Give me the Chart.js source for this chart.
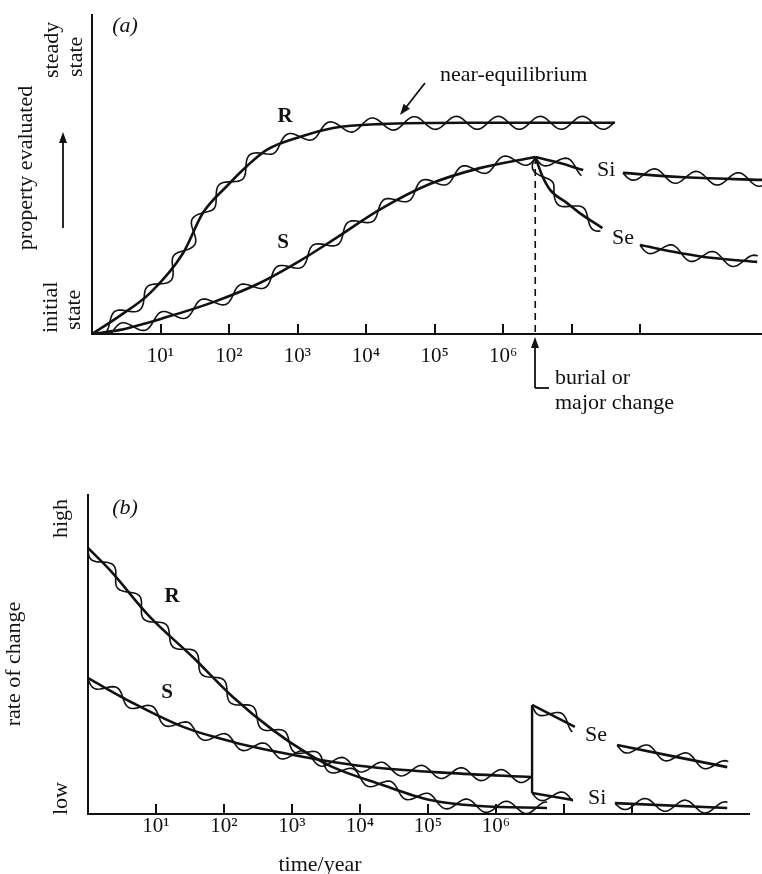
<!DOCTYPE html>
<html>
<head>
<meta charset="utf-8">
<script src="https://cdn.jsdelivr.net/npm/chart.js@4.4.1/dist/chart.umd.min.js"></script>
<style>
  html, body { margin: 0; padding: 0; background: #fff; }
  body { width: 762px; height: 874px; position: relative; overflow: hidden; }
  .panel { position: absolute; left: 0; }
  #panelA { top: 0; }
  #panelB { top: 470px; }
</style>
</head>
<body>
<div class="panel" id="panelA"><canvas id="chartA" width="762" height="430"></canvas></div>
<div class="panel" id="panelB"><canvas id="chartB" width="762" height="404"></canvas></div>
<script>
const INK = '#111';
const SERIF = '"Liberation Serif", "DejaVu Serif", serif';

// x = log10(time / year); one tick per decade
const decades = [1, 2, 3, 4, 5, 6, 7, 8];
const decadeLabels = ['10¹', '10²', '10³', '10⁴', '10⁵', '10⁶', '', ''];

// (a) property evaluated: 0 = initial state, 100 = steady state
const aR = [[0, 0], [0.4, 5.6], [0.85, 12.9], [1.33, 25.4], [1.62, 38], [1.97, 46.4], [2.26, 52.6],
            [2.55, 57.7], [3.04, 61.8], [3.52, 64.6], [4.2, 65.8], [5.5, 66.2], [7.63, 66.2]];
const aS = [[0, 0], [0.41, 1.3], [1.09, 5.3], [1.77, 10], [2.45, 16], [3.04, 23], [3.52, 29.5],
            [4.2, 39], [4.93, 47], [5.66, 52], [6.47, 55.5]];
const aSi1 = [[6.47, 55.5], [6.83, 53.6], [7.17, 51.4]];
const aSi2 = [[7.75, 50.5], [8.58, 49.2], [9.78, 48.3]];
const aSe1 = [[6.47, 55.5], [6.58, 49.2], [6.69, 45.1], [6.93, 41.1], [7.12, 37.9], [7.45, 33.2]];
const aSe2 = [[8.0, 27.9], [8.58, 25.4], [9.07, 23.8], [9.71, 22.6]];
const burialAt = 6.47;
const aBurial = [[burialAt, 55.5], [burialAt, 0]];

// (b) rate of change: 0 = low, 100 = high
const bR = [[0, 83.4], [0.32, 76.5], [0.91, 61.8], [1.54, 49.2], [2.13, 36.7], [2.72, 26.3],
            [3.22, 19.1], [3.6, 14.7], [4.29, 9.4], [5.03, 4.4], [5.76, 2.5], [6.75, 1.9]];
const bS = [[0, 42.6], [0.66, 34.8], [1.4, 27.3], [2.13, 22.6], [2.87, 19.1], [3.6, 16.3],
            [4.29, 14.4], [5.28, 12.9], [6.53, 11.6]];
const bJump = [[6.53, 34.2], [6.53, 6.6]];
const bSe1 = [[6.53, 34.2], [7.16, 27.3]];
const bSe2 = [[7.78, 21.6], [9.4, 14.7]];
const bSi1 = [[6.53, 6.6], [7.13, 4.4]];
const bSi2 = [[7.75, 3.4], [9.4, 1.9]];

const pts = arr => arr.map(([x, y]) => ({ x, y }));

function curve(label, arr, wave) {
    return {
        label, data: pts(arr), wave,
        borderColor: INK, borderWidth: 2.6, pointRadius: 0,
        cubicInterpolationMode: 'monotone'
    };
}

function straight(label, arr, dash) {
    return {
        label, data: pts(arr),
        borderColor: INK, borderWidth: dash ? 1.6 : 2.4, borderDash: dash || [],
        pointRadius: 0, tension: 0
    };
}

function drawArrow(ctx, x1, y1, x2, y2) {
    const ang = Math.atan2(y2 - y1, x2 - x1);
    ctx.lineWidth = 1.8;
    ctx.beginPath();
    ctx.moveTo(x1, y1);
    ctx.lineTo(x2 - 6 * Math.cos(ang), y2 - 6 * Math.sin(ang));
    ctx.stroke();
    ctx.beginPath();
    ctx.moveTo(x2, y2);
    ctx.lineTo(x2 - 11 * Math.cos(ang) + 4 * Math.sin(ang), y2 - 11 * Math.sin(ang) - 4 * Math.cos(ang));
    ctx.lineTo(x2 - 11 * Math.cos(ang) - 4 * Math.sin(ang), y2 - 11 * Math.sin(ang) + 4 * Math.cos(ang));
    ctx.closePath();
    ctx.fill();
}

// the wiggly "fluctuation" line running along each smooth curve
const wavePlugin = {
    id: 'wave',
    afterDatasetsDraw(chart) {
        const { ctx, chartArea } = chart;
        chart.data.datasets.forEach((ds, i) => {
            const w = ds.wave;
            const meta = chart.getDatasetMeta(i);
            if (!w || meta.hidden) return;
            const p = meta.data;
            const path = [];
            for (let k = 0; k < p.length - 1; k++) {
                const a = p[k], b = p[k + 1];
                const c1x = a.cp2x ?? a.x, c1y = a.cp2y ?? a.y;
                const c2x = b.cp1x ?? b.x, c2y = b.cp1y ?? b.y;
                const n = Math.max(8, Math.ceil(Math.hypot(b.x - a.x, b.y - a.y) / 2));
                for (let s = 0; s < n; s++) {
                    const t = s / n, u = 1 - t;
                    path.push([
                        u * u * u * a.x + 3 * u * u * t * c1x + 3 * u * t * t * c2x + t * t * t * b.x,
                        u * u * u * a.y + 3 * u * u * t * c1y + 3 * u * t * t * c2y + t * t * t * b.y
                    ]);
                }
            }
            const last = p[p.length - 1];
            path.push([last.x, last.y]);

            ctx.save();
            ctx.beginPath();
            ctx.rect(chartArea.left, chartArea.top, chartArea.right - chartArea.left, chartArea.bottom - chartArea.top);
            ctx.clip();
            ctx.beginPath();
            let d = 0;
            for (let j = 0; j < path.length; j++) {
                const [x, y] = path[j];
                if (j > 0) d += Math.hypot(x - path[j - 1][0], y - path[j - 1][1]);
                const prev = path[Math.max(0, j - 1)], next = path[Math.min(path.length - 1, j + 1)];
                const tx = next[0] - prev[0], ty = next[1] - prev[1];
                const L = Math.hypot(tx, ty) || 1;
                const off = w.amp * Math.sin(2 * Math.PI * d / w.len + (w.phase || 0));
                const px = x - ty / L * off, py = y + tx / L * off;
                if (j === 0) ctx.moveTo(px, py); else ctx.lineTo(px, py);
            }
            ctx.lineWidth = w.width;
            ctx.strokeStyle = INK;
            ctx.stroke();
            ctx.restore();
        });
    }
};

// short decade ticks standing up from the time axis
const decadeTicks = {
    id: 'decadeTicks',
    afterDraw(chart) {
        const { ctx, chartArea, scales: { x } } = chart;
        ctx.save();
        ctx.strokeStyle = INK;
        ctx.lineWidth = 2;
        decades.forEach(v => {
            const px = Math.round(x.getPixelForValue(v));
            ctx.beginPath();
            ctx.moveTo(px, chartArea.bottom);
            ctx.lineTo(px, chartArea.bottom - 10);
            ctx.stroke();
        });
        ctx.restore();
    }
};

function notes(items) {
    return {
        id: 'notes',
        afterDraw(chart) {
            const ctx = chart.ctx;
            ctx.save();
            ctx.fillStyle = INK;
            ctx.strokeStyle = INK;
            items.forEach(n => {
                if (n.arrow) { drawArrow(ctx, ...n.arrow); return; }
                ctx.font = `${n.style || 'normal'} ${n.size || 22}px ${SERIF}`;
                ctx.textAlign = n.align || 'center';
                ctx.textBaseline = n.baseline || 'middle';
                ctx.save();
                ctx.translate(n.x, n.y);
                if (n.rot) ctx.rotate(-Math.PI / 2);
                ctx.fillText(n.t, 0, 0);
                ctx.restore();
            });
            ctx.restore();
        }
    };
}

const burialPointer = {
    id: 'burialPointer',
    afterDraw(chart) {
        const { ctx, chartArea } = chart;
        const x = Math.round(chart.scales.x.getPixelForValue(burialAt));
        ctx.save();
        ctx.strokeStyle = INK;
        ctx.fillStyle = INK;
        drawArrow(ctx, x, 388, x, chartArea.bottom + 3);
        ctx.beginPath();
        ctx.moveTo(x, 388);
        ctx.lineTo(x + 14, 388);
        ctx.stroke();
        ctx.restore();
    }
};

function panelOptions(p) {
    return {
        responsive: false,
        animation: false,
        events: [],
        layout: { padding: { top: p.top, right: p.right, left: 0, bottom: 0 } },
        plugins: { legend: { display: false }, tooltip: { enabled: false } },
        scales: {
            x: {
                type: 'linear', min: 0, max: p.xMax,
                grid: { display: false, drawTicks: false },
                border: { display: true, color: INK, width: 2 },
                afterBuildTicks: s => { s.ticks = decades.map(value => ({ value })); },
                afterFit: s => { s.height = p.xHeight; },
                ticks: {
                    autoSkip: false, maxRotation: 0, padding: p.labelPad, color: INK,
                    font: { family: SERIF, size: 21 },
                    callback: v => decadeLabels[decades.indexOf(v)] ?? ''
                }
            },
            y: {
                min: 0, max: 100,
                grid: { display: false },
                border: { display: true, color: INK, width: 2 },
                ticks: { display: false },
                afterFit: s => { s.width = p.yWidth; }
            }
        }
    };
}

const waveA = { amp: 6.5, len: 42, width: 1.6 };
const waveB = { amp: 6, len: 40, width: 1.6 };

new Chart(document.getElementById('chartA'), {
    type: 'line',
    data: {
        datasets: [
            curve('R', aR, waveA),
            curve('S', aS, waveA),
            curve('Si', aSi1, waveA),
            curve('Si', aSi2, waveA),
            curve('Se', aSe1, waveA),
            curve('Se', aSe2, waveA),
            straight('burial', aBurial, [7, 5])
        ]
    },
    options: panelOptions({ top: 15, right: 0, xMax: 9.78, xHeight: 96, yWidth: 92, labelPad: 10 }),
    plugins: [wavePlugin, decadeTicks, burialPointer, notes([
        { t: '(a)', x: 125, y: 26, style: 'italic' },
        { t: 'steady', x: 58, y: 78, rot: true, align: 'left', baseline: 'alphabetic' },
        { t: 'state', x: 82, y: 77, rot: true, align: 'left', baseline: 'alphabetic' },
        { t: 'property evaluated', x: 32, y: 168, rot: true, baseline: 'alphabetic' },
        { arrow: [63, 228, 63, 132] },
        { t: 'initial', x: 57, y: 333, rot: true, align: 'left', baseline: 'alphabetic' },
        { t: 'state', x: 80, y: 330, rot: true, align: 'left', baseline: 'alphabetic' },
        { t: 'R', x: 285, y: 117, style: 'bold', size: 21 },
        { t: 'S', x: 283, y: 243, style: 'bold', size: 21 },
        { t: 'near-equilibrium', x: 440, y: 75, align: 'left' },
        { arrow: [425, 83, 400, 115] },
        { t: 'Si', x: 597, y: 170, align: 'left' },
        { t: 'Se', x: 612, y: 238, align: 'left' },
        { t: 'burial or', x: 555, y: 378, align: 'left' },
        { t: 'major change', x: 555, y: 403, align: 'left' }
    ])]
});

new Chart(document.getElementById('chartB'), {
    type: 'line',
    data: {
        datasets: [
            curve('R', bR, waveB),
            curve('S', bS, waveB),
            straight('jump', bJump),
            curve('Se', bSe1, waveB),
            curve('Se', bSe2, waveB),
            curve('Si', bSi1, waveB),
            curve('Si', bSi2, waveB)
        ]
    },
    options: panelOptions({ top: 25, right: 13, xMax: 9.72, xHeight: 60, yWidth: 88, labelPad: 0 }),
    plugins: [wavePlugin, decadeTicks, notes([
        { t: '(b)', x: 125, y: 38, style: 'italic' },
        { t: 'high', x: 67, y: 68, rot: true, align: 'left', baseline: 'alphabetic' },
        { t: 'rate of change', x: 20, y: 194, rot: true, baseline: 'alphabetic' },
        { t: 'low', x: 67, y: 345, rot: true, align: 'left', baseline: 'alphabetic' },
        { t: 'R', x: 172, y: 127, style: 'bold', size: 21 },
        { t: 'S', x: 167, y: 223, style: 'bold', size: 21 },
        { t: 'Se', x: 585, y: 265, align: 'left' },
        { t: 'Si', x: 588, y: 328, align: 'left' },
        { t: 'time/year', x: 320, y: 395 }
    ])]
});
</script>
</body>
</html>
